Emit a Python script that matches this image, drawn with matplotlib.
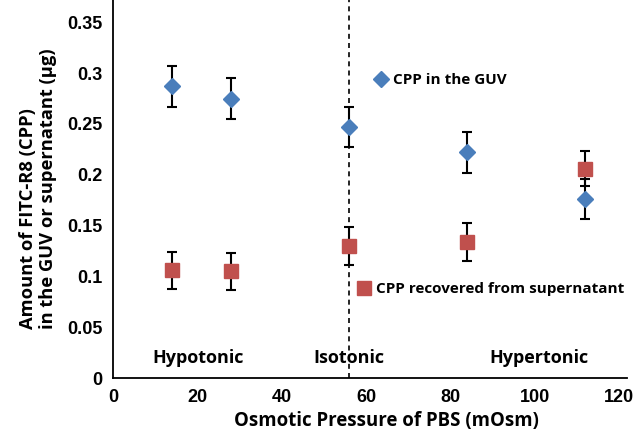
import matplotlib.pyplot as plt
from matplotlib.lines import Line2D

# data
osm = [14, 28, 56, 84, 112]
guv = [0.287, 0.275, 0.247, 0.222, 0.176]
guv_err = [0.020, 0.020, 0.020, 0.020, 0.020]
sup = [0.106, 0.105, 0.130, 0.134, 0.206]
sup_err = [0.018, 0.018, 0.019, 0.019, 0.017]
regions = ['Hypotonic', 'Isotonic', 'Hypertonic']
region_x = [20, 56, 101]
isotonic = 56

blue = '#4A7EBB'
red = '#C0504D'
lab_font = ['Open Sans', 'DejaVu Sans']

fig = plt.figure(figsize=(6.33, 4.34), dpi=100)
ax = fig.add_axes([0.179, 0.129, 0.812, 0.871])

ax.errorbar(osm, sup, yerr=sup_err, fmt='none', ecolor='black', elinewidth=1.5,
            capsize=3.6, capthick=1.5, zorder=2)
ax.errorbar(osm, guv, yerr=guv_err, fmt='none', ecolor='black', elinewidth=1.5,
            capsize=3.6, capthick=1.5, zorder=2)
ax.plot(osm, guv, 'D', color=blue, ms=8.5, mec=blue, zorder=3)
ax.plot(osm, sup, 's', color=red, ms=10, mec=red, zorder=3)

ax.axvline(isotonic, color='black', ls=(0, (3, 2.5)), lw=1.2, zorder=1)

for name, xx in zip(regions, region_x):
    ax.text(xx, 0.02, name, ha='center', va='center', fontsize=13,
            fontweight='bold', family=lab_font, zorder=4)

ax.set_xlim(0, 122)
ax.set_ylim(0, 0.372)
ax.set_xticks([0, 20, 40, 60, 80, 100, 120])
ax.set_yticks([0, 0.05, 0.1, 0.15, 0.2, 0.25, 0.3, 0.35])
ax.set_yticklabels(['0', '0.05', '0.1', '0.15', '0.2', '0.25', '0.3', '0.35'])
ax.tick_params(length=0, labelsize=13, pad=8)
for t in ax.get_xticklabels() + ax.get_yticklabels():
    t.set_fontweight('bold')
    t.set_family(['Liberation Sans', 'DejaVu Sans'])
for s in ['top', 'right']:
    ax.spines[s].set_visible(False)
for s in ['left', 'bottom']:
    ax.spines[s].set_linewidth(1.3)

ax.set_xlabel('Osmotic Pressure of PBS (mOsm)', fontsize=13.4, fontweight='bold',
              family=lab_font)
ax.xaxis.set_label_coords(0.531, -0.088)
ax.set_ylabel('Amount of FITC-R8 (CPP)\nin the GUV or supernatant (\u00b5g)',
              fontsize=13.2, fontweight='bold', family=lab_font,
              linespacing=1.15, multialignment='left')
ax.yaxis.set_label_coords(-0.11, 0.5)

h1 = Line2D([], [], marker='D', ls='none', color=blue, ms=8.5)
h2 = Line2D([], [], marker='s', ls='none', color=red, ms=10)
leg1 = fig.legend([h1], ['CPP in the GUV'], loc='center left',
                  bbox_to_anchor=(0.592, 1 - 80 / 434), frameon=False,
                  handlelength=0.8, handletextpad=0.4, borderpad=0, borderaxespad=0,
                  prop={'family': lab_font, 'weight': 'bold', 'size': 11})
leg2 = fig.legend([h2], ['CPP recovered from supernatant'], loc='center left',
                  bbox_to_anchor=(0.565, 1 - 289 / 434), frameon=False,
                  handlelength=0.8, handletextpad=0.4, borderpad=0, borderaxespad=0,
                  prop={'family': lab_font, 'weight': 'bold', 'size': 11})

fig.savefig('out.png', dpi=100)
